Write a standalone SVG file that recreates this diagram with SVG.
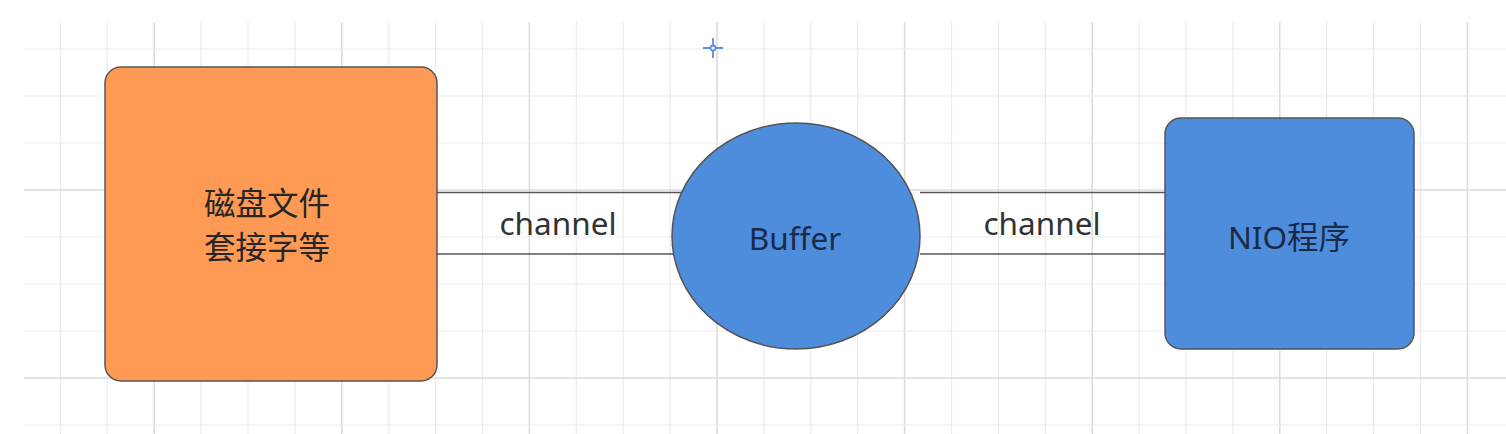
<svg xmlns="http://www.w3.org/2000/svg" width="1506" height="434" viewBox="0 0 1506 434">
<defs>
<style>
.minor{stroke:#ebebeb;stroke-width:1.2;fill:none}
.major{stroke:#dcdcdc;stroke-width:1.6;fill:none}
.node{stroke:#555;stroke-width:1.5}
.txt{font-family:"Noto Sans","Noto Sans CJK SC",sans-serif;font-size:31.5px;text-anchor:middle}
.conn{stroke:#555;stroke-width:1.6;fill:none}
</style>
</defs>
<rect width="1506" height="434" fill="#ffffff"/>
<g id="grid">
<path class="minor" d="M60.4 22V434M107.3 22V434M201.1 22V434M248 22V434M294.9 22V434M388.7 22V434M435.6 22V434M482.5 22V434M576.3 22V434M623.2 22V434M670.1 22V434M763.9 22V434M810.8 22V434M857.7 22V434M951.5 22V434M998.4 22V434M1045.3 22V434M1139.1 22V434M1186 22V434M1232.9 22V434M1326.7 22V434M1373.6 22V434M1420.5 22V434"/>
<path class="major" d="M154.2 22V434M341.8 22V434M529.4 22V434M717 22V434M904.6 22V434M1092.2 22V434M1279.8 22V434M1467.4 22V434"/>
<path class="minor" d="M24 49H1506M24 96H1506M24 143H1506M24 237H1506M24 284H1506M24 331H1506M24 425H1506"/>
<path class="major" d="M24 190H1506M24 378H1506"/>
</g>
<g id="crosshair" stroke="#5b8fdc" stroke-width="1.8" fill="none">
<path d="M713 38V58M703 48H723"/>
<circle cx="713" cy="48" r="2.5" fill="#ffffff"/>
</g>
<g id="connectors">
<path class="conn" d="M437 192.5H682M437 254H684"/>
<path class="conn" d="M920 192.5H1165M920 254H1165"/>
<text class="txt" x="558" y="235" fill="#333">channel</text>
<text class="txt" x="1042" y="235" fill="#333">channel</text>
</g>
<g id="node-disk">
<rect class="node" x="105" y="67" width="332" height="314" rx="16" fill="#FF9A55"/>
<text class="txt" x="267" y="215" fill="#262626">磁盘文件</text>
<text class="txt" x="267" y="259" fill="#262626">套接字等</text>
</g>
<g id="node-buffer">
<ellipse class="node" cx="796" cy="236" rx="124" ry="113" fill="#4E8DDC"/>
<text class="txt" x="795" y="250" fill="#1a2a48">Buffer</text>
</g>
<g id="node-nio">
<rect class="node" x="1165" y="118" width="249" height="231" rx="16" fill="#4E8DDC"/>
<text class="txt" x="1289" y="249" fill="#1a2a48">NIO程序</text>
</g>
</svg>
